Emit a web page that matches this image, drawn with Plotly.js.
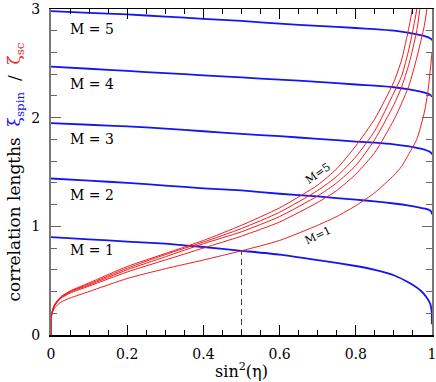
<!DOCTYPE html>
<html>
<head>
<meta charset="utf-8">
<script src="https://cdn.plot.ly/plotly-3.0.1.min.js"></script>
<style>
  html, body { margin: 0; padding: 0; background: #fff; }
  #chart { width: 436px; height: 382px; }
</style>
</head>
<body>
<div id="chart"></div>
<script>
// spin correlation length xi_spin(M) vs sin^2(eta)
const xSpin = [0, 0.1, 0.2, 0.3, 0.4, 0.5, 0.6, 0.7, 0.8, 0.85, 0.9, 0.94, 0.97, 0.985, 0.995, 0.999, 1.0];
const spinM1 = [0.90, 0.88, 0.86, 0.84, 0.81, 0.775, 0.74, 0.69, 0.635, 0.60, 0.55, 0.48, 0.41, 0.35, 0.29, 0.22, 0.10];
const spinM2 = [1.44, 1.42, 1.40, 1.375, 1.35, 1.33, 1.30, 1.275, 1.245, 1.23, 1.21, 1.19, 1.17, 1.16, 1.145, 1.13, 1.11];
const spinM3 = [1.95, 1.935, 1.92, 1.90, 1.875, 1.85, 1.83, 1.805, 1.78, 1.77, 1.755, 1.735, 1.715, 1.70, 1.685, 1.67, 1.66];
const spinM4 = [2.47, 2.45, 2.43, 2.41, 2.39, 2.37, 2.35, 2.33, 2.305, 2.295, 2.28, 2.26, 2.24, 2.225, 2.21, 2.20, 2.19];
const spinM5 = [2.98, 2.965, 2.95, 2.93, 2.91, 2.89, 2.865, 2.845, 2.825, 2.815, 2.80, 2.78, 2.76, 2.745, 2.73, 2.72, 2.71];

// superconducting correlation length zeta_sc(M)
const xSc = [0, 0.001, 0.004, 0.01, 0.025, 0.05, 0.1, 0.2, 0.3, 0.4, 0.5, 0.6, 0.7, 0.75, 0.8, 0.85, 0.9, 0.92, 0.94, 0.96, 0.98, 0.99, 1.0];
const scM1 = [0, 0.16, 0.21, 0.25, 0.30, 0.34, 0.40, 0.52, 0.61, 0.69, 0.775, 0.87, 1.01, 1.09, 1.19, 1.31, 1.47, 1.55, 1.67, 1.80, 2.05, 2.26, 2.60];
const scM2 = [0, 0.17, 0.22, 0.27, 0.335, 0.385, 0.45, 0.58, 0.69, 0.80, 0.91, 1.04, 1.22, 1.33, 1.48, 1.68, 1.98, 2.13, 2.30, 2.55, 2.85, 3.10, 3.80];
const scM3 = [0, 0.17, 0.225, 0.275, 0.34, 0.395, 0.46, 0.60, 0.72, 0.84, 0.95, 1.09, 1.28, 1.40, 1.56, 1.80, 2.12, 2.28, 2.50, 2.80, 3.35, 3.90, 4.60];
const scM4 = [0, 0.17, 0.23, 0.28, 0.345, 0.40, 0.47, 0.615, 0.74, 0.855, 0.98, 1.13, 1.33, 1.46, 1.64, 1.88, 2.23, 2.38, 2.64, 3.00, 3.70, 4.30, 5.00];
const scM5 = [0, 0.17, 0.23, 0.285, 0.35, 0.405, 0.48, 0.63, 0.75, 0.87, 1.01, 1.17, 1.38, 1.53, 1.74, 1.99, 2.33, 2.53, 2.84, 3.25, 4.00, 4.60, 5.20];

const spinLabels = ['M = 1', 'M = 2', 'M = 3', 'M = 4', 'M = 5'];
const spinLabelY = [0.78, 1.29, 1.80, 2.31, 2.82];

const dashX = [0.5, 0.5];
const dashY = [0, 0.775];

const blue = '#1515f0';
const red = '#f01c1c';
const serif = 'DejaVu Serif';

const traces = [];
[spinM1, spinM2, spinM3, spinM4, spinM5].forEach(ys => {
    traces.push({
        x: xSpin, y: ys, type: 'scatter', mode: 'lines',
        line: { color: blue, width: 1.8, shape: 'spline', smoothing: 0.5 }, hoverinfo: 'skip'
    });
});
[scM1, scM2, scM3, scM4, scM5].forEach(ys => {
    traces.push({
        x: xSc, y: ys, type: 'scatter', mode: 'lines',
        line: { color: red, width: 1, shape: 'spline', smoothing: 0.6 }, hoverinfo: 'skip'
    });
});
traces.push({
    x: dashX, y: dashY, type: 'scatter', mode: 'lines',
    line: { color: '#444', width: 1, dash: '6px,4px' }, hoverinfo: 'skip'
});

const annotations = spinLabels.map((t, i) => ({
    x: 0.045, y: spinLabelY[i], xref: 'x', yref: 'y',
    text: t, showarrow: false, xanchor: 'left', yanchor: 'middle',
    font: { family: serif, size: 14, color: '#000' }
}));
annotations.push({
    x: 0.70, y: 1.49, xref: 'x', yref: 'y', text: 'M=5', showarrow: false,
    textangle: -35, font: { family: serif, size: 11, color: '#000' }
});
annotations.push({
    x: 0.70, y: 0.92, xref: 'x', yref: 'y', text: 'M=1', showarrow: false,
    textangle: -25, font: { family: serif, size: 11, color: '#000' }
});

const layout = {
    width: 436,
    height: 382,
    margin: { l: 51, r: 4, t: 9, b: 47 },
    showlegend: false,
    paper_bgcolor: '#fff',
    plot_bgcolor: '#fff',
    font: { family: serif, size: 14, color: '#000' },
    xaxis: {
        range: [0, 1],
        tickvals: [0, 0.2, 0.4, 0.6, 0.8, 1],
        ticktext: ['0', '0.2', '0.4', '0.6', '0.8', '1'],
        ticks: 'inside', ticklen: 10, tickcolor: '#000',
        minor: { dtick: 0.05, ticks: 'inside', ticklen: 5, tickcolor: '#000' },
        showline: true, linecolor: '#000', linewidth: 1.5, mirror: 'allticks',
        showgrid: false, zeroline: false,
        ticklabelstandoff: 6, ticklabeloverflow: 'allow',
        tickfont: { family: serif, size: 14 },
        title: { text: 'sin<sup>2</sup>(η)', font: { family: serif, size: 16 }, standoff: 4 }
    },
    yaxis: {
        range: [0, 3],
        tickvals: [0, 1, 2, 3],
        ticks: 'inside', ticklen: 10, tickcolor: '#666',
        minor: { dtick: 0.2, ticks: 'inside', ticklen: 6, tickcolor: '#666' },
        showline: true, linecolor: '#777', linewidth: 2, mirror: 'allticks',
        showgrid: false, zeroline: false,
        ticklabelstandoff: 6, ticklabeloverflow: 'allow',
        tickfont: { family: serif, size: 14 },
        title: {
            text: 'correlation lengths  <span style="color:' + blue + '">ξ<sub>spin</sub></span>  /  <span style="color:' + red + '">ζ<sub>sc</sub></span>',
            font: { family: serif, size: 17 }, standoff: 6
        }
    },
    annotations: annotations
};

Plotly.newPlot('chart', traces, layout, { staticPlot: true });
</script>
</body>
</html>
